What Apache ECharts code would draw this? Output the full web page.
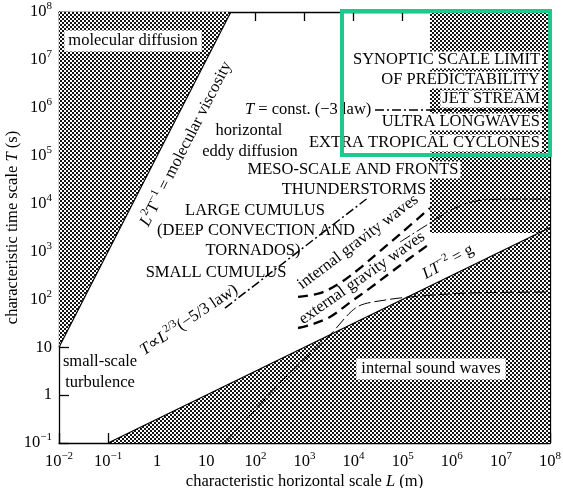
<!DOCTYPE html>
<html><head><meta charset="utf-8">
<script src="https://cdn.jsdelivr.net/npm/echarts@6/dist/echarts.min.js"></script>
<style>html,body{margin:0;padding:0;background:#fff}#c{width:563px;height:488px}</style>
</head><body><div id="c"></div>
<script>
// ---------- data (L in m, T in s) ----------
const xTickExps = [-2,-1,0,1,2,3,4,5,6,7,8];
const xTickLabels = ['10{s|−2}','10{s|−1}','1','10','10{s|2}','10{s|3}','10{s|4}','10{s|5}','10{s|6}','10{s|7}','10{s|8}'];
const yTickExps = [-1,0,1,2,3,4,5,6,7,8];
const yTickLabels = ['10{s|−1}','1','10','10{s|2}','10{s|3}','10{s|4}','10{s|5}','10{s|6}','10{s|7}','10{s|8}'];

const viscosityRegion = [[0.01,10],[0.01,1e8],[31.6,1e8]];
const soundRegion = [[0.1,0.1],[1e8,3162],[1e8,0.1]];
const synopticRegion = [[3.6e5,2.42e3],[3.6e5,1e8],[1e8,1e8],[1e8,2.42e3]];

const viscosityLine = [[0.01,10],[31.6,1e8]];
const gravityLine = [[0.1,0.1],[1e8,3162]];
const constTLine = [[2.73e4,8.95e5],[1e8,8.95e5]];
const kolmogorovLine = [[24,65.8],[3.14e4,1.91e4]];
const internalGW = [[738,112],[2070,135],[5280,219],[1.35e4,450],[3.45e4,1020],[8.81e4,2300],[3.6e5,8050]];
const externalGW = [[738,25.2],[1290,29],[3300,43],[8450,86],[2.16e4,172],[5.51e4,354],[1.41e5,728],[3.27e5,1360]];
const gwUpperLimit = [[8.81e4,1.57e3],[3.6e5,3.92e3],[1.16e6,8.05e3],[4.31e6,1.18e4],[1.5e7,1.24e4],[1e8,1.24e4]];
const soundLimit = [[24,0.1],[317,1.79],[3.3e3,18],[1.17e4,69],[4.37e4,96.6],[2.24e5,117],[2.34e6,136],[1e8,142]];

// ---------- styling ----------
const FONT = 'Liberation Serif';
const FS = 16.5;
const hatchCanvas = document.createElement('canvas');
hatchCanvas.width = 4; hatchCanvas.height = 4;
(function(){const g = hatchCanvas.getContext('2d');
  g.fillStyle = '#ffffff'; g.fillRect(0,0,4,4);
  g.fillStyle = '#141414'; g.fillRect(0,0,2,2); g.fillRect(2,2,2,2);})();
const hatch = {image: hatchCanvas, repeat: 'repeat'};

const RICH = {
  i: {fontFamily: FONT, fontSize: FS, fontStyle: 'italic', lineHeight: 22},
  n: {fontFamily: FONT, fontSize: FS, lineHeight: 22},
  s: {fontFamily: FONT, fontSize: 11, verticalAlign: 'top', lineHeight: 14}
};

function region(pts) {
  return {type: 'custom', coordinateSystem: 'cartesian2d', silent: true, z: 1,
    data: [pts[0]],
    renderItem: (params, api) => ({type: 'polygon',
      shape: {points: pts.map(p => api.coord(p))},
      style: {fill: hatch, stroke: null}})};
}
function line(data, width, dash, smooth) {
  return {type: 'line', data, symbol: 'none', silent: true, z: 3, smooth: smooth || false,
    lineStyle: {color: '#000', width, type: dash}};
}
function txt(text, x, y, o) {
  o = o || {};
  return {type: 'text', x, y, rotation: (o.rot || 0) * Math.PI / 180, z: 100, silent: true,
    style: {text, x: 0, y: 0, fill: '#000', fontFamily: FONT, fontSize: FS,
      fontStyle: o.italic ? 'italic' : 'normal',
      align: o.align || 'center', verticalAlign: 'middle',
      lineHeight: o.lh, backgroundColor: o.bg, padding: o.pad, rich: RICH}};
}

const labelFmt = (exps, labels) => v => {
  const e = Math.round(Math.log10(v));
  const i = exps.indexOf(e);
  return i >= 0 ? labels[i] : '';
};

const axisCommon = {type: 'log', logBase: 10, splitLine: {show: false}, interval: 1,
  axisLine: {lineStyle: {color: '#000', width: 1.3}}};

const chart = echarts.init(document.getElementById('c'), null, {renderer: 'canvas'});
chart.setOption({
  animation: false,
  backgroundColor: '#fff',
  grid: {left: 59, right: 13, top: 12, bottom: 45, containLabel: false, outerBoundsMode: 'none'},
  xAxis: [
    Object.assign({}, axisCommon, {min: 0.01, max: 1e8, position: 'bottom',
      axisTick: {inside: true, length: 10, lineStyle: {color: '#000', width: 1.3}},
      axisLabel: {color: '#000', fontFamily: FONT, fontSize: FS, margin: 8, lineHeight: 22,
        hideOverlap: false, showMinLabel: true, showMaxLabel: true,
        formatter: labelFmt(xTickExps, xTickLabels), rich: RICH},
      name: 'characteristic horizontal scale {i|L} (m)', nameLocation: 'middle', nameGap: 28,
      nameMoveOverlap: false,
      nameTextStyle: {color: '#000', fontFamily: FONT, fontSize: FS, rich: RICH}}),
    Object.assign({}, axisCommon, {min: 0.01, max: 1e8, position: 'top',
      axisTick: {inside: true, length: 9, lineStyle: {color: '#000', width: 1.3}},
      axisLabel: {show: false}})
  ],
  yAxis: [
    Object.assign({}, axisCommon, {min: 0.1, max: 1e8, position: 'left',
      axisTick: {inside: true, length: 10, lineStyle: {color: '#000', width: 1.3}},
      axisLabel: {color: '#000', fontFamily: FONT, fontSize: FS, margin: 7, lineHeight: 22,
        hideOverlap: false, showMinLabel: true, showMaxLabel: true,
        formatter: labelFmt(yTickExps, yTickLabels), rich: RICH},
      name: 'characteristic time scale {i|T} (s)', nameLocation: 'middle', nameGap: 35,
      nameMoveOverlap: false,
      nameTextStyle: {color: '#000', fontFamily: FONT, fontSize: FS, rich: RICH}}),
    Object.assign({}, axisCommon, {min: 0.1, max: 1e8, position: 'right',
      axisTick: {show: false}, axisLabel: {show: false}})
  ],
  series: [
    region(viscosityRegion),
    region(soundRegion),
    region(synopticRegion),
    line(viscosityLine, 1.2, 'solid'),
    line(gravityLine, 1.2, 'solid'),
    line(constTLine, 1.5, [9, 3, 2, 3]),
    line(kolmogorovLine, 1.5, [9, 3, 2, 3]),
    line(internalGW, 2.3, [10, 6], 0.35),
    line(externalGW, 2.3, [10, 6], 0.35),
    line(gwUpperLimit, 1, [12, 3, 2, 3], 0.4),
    line(soundLimit, 1, [12, 4], 0.3)
  ],
  graphic: [
    txt('molecular diffusion', 133, 41, {bg: '#fff', pad: [2, 4]}),
    txt('{i|L}{s|2}{n|T}{s|−1}{n| = molecular viscosity}', 186, 144, {rot: 62.9, lh: 22}),
    txt('{i|T}{n| = const. (−3 law)}', 245, 110, {align: 'left', lh: 22}),
    txt('horizontal', 249, 131),
    txt('eddy diffusion', 250, 152),
    txt('SYNOPTIC SCALE LIMIT', 542, 60, {align: 'right', bg: '#fff', pad: [0, 2]}),
    txt('OF PREDICTABILITY', 542, 80, {align: 'right', bg: '#fff', pad: [0, 2]}),
    txt('JET STREAM', 542, 99, {align: 'right', bg: '#fff', pad: [0, 2]}),
    txt('ULTRA LONGWAVES', 542, 122, {align: 'right', bg: '#fff', pad: [0, 2]}),
    txt('EXTRA TROPICAL CYCLONES', 542, 143, {align: 'right', bg: '#fff', pad: [0, 2]}),
    txt('MESO-SCALE AND FRONTS', 353, 170, {bg: '#fff', pad: [0, 2]}),
    txt('THUNDERSTORMS', 354, 190, {bg: '#fff', pad: [0, 2]}),
    txt('LARGE CUMULUS', 255, 211),
    txt('(DEEP CONVECTION AND', 256, 231),
    txt('TORNADOS)', 253, 251),
    txt('SMALL CUMULUS', 216, 273),
    txt('{i|T}{n|∝}{i|L}{s|2/3}{n|(−5/3 law)}', 189, 320, {rot: 34, lh: 22}),
    txt('internal gravity waves', 358, 242, {rot: 37}),
    txt('external gravity waves', 362, 278, {rot: 35}),
    txt('{i|LT}{s|−2}{n| = g}', 448, 262, {rot: 29, lh: 22}),
    txt('small-scale', 100, 362),
    txt('turbulence', 100, 383),
    txt('internal sound waves', 431, 369, {bg: '#fff', pad: [2, 5]}),
    {type: 'rect', z: 110, silent: true, shape: {x: 342, y: 11, width: 208, height: 144},
      style: {fill: null, stroke: '#1fc98c', lineWidth: 4}}
  ]
});
</script></body></html>
